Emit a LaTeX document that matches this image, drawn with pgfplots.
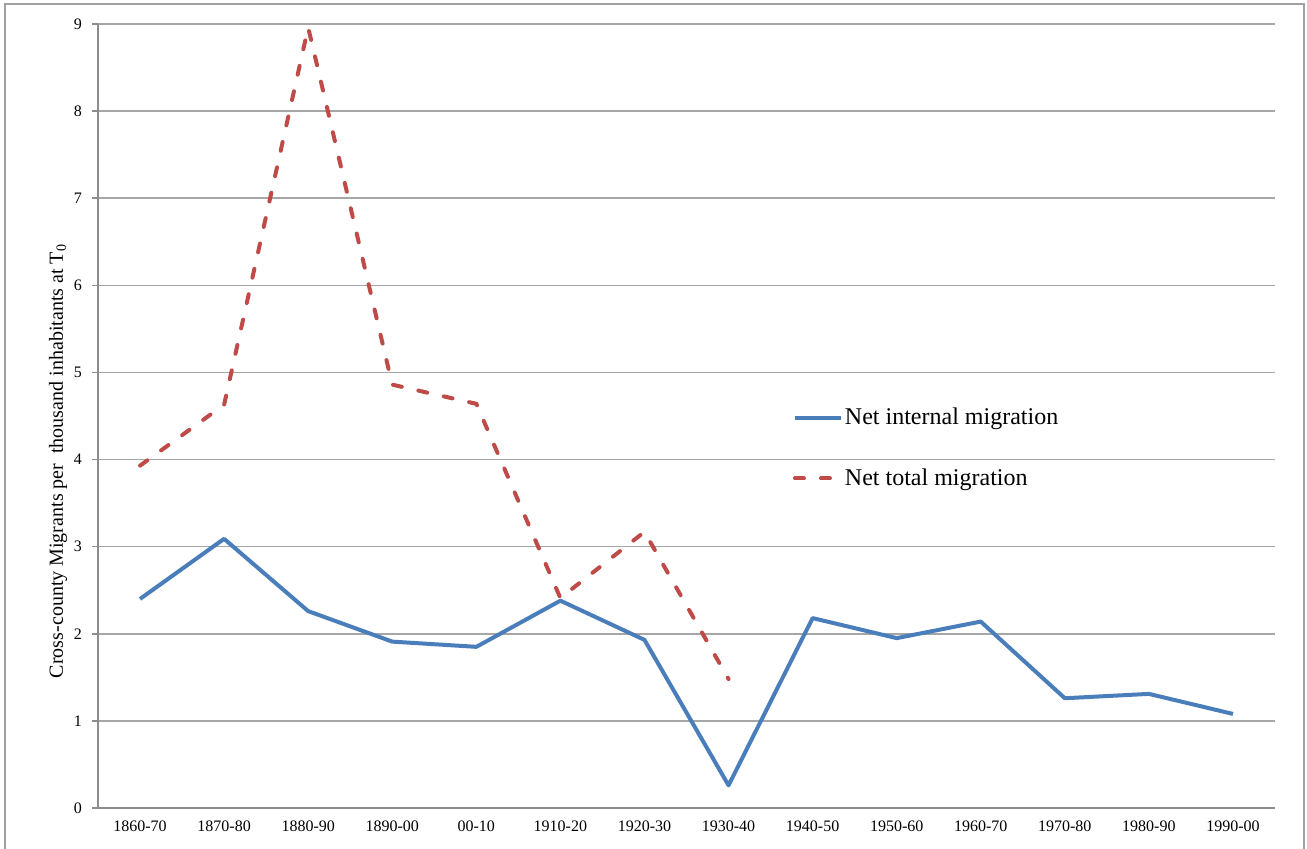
\documentclass[border=0pt]{standalone}
\usepackage{fontspec}
\setmainfont{Liberation Serif}
\usepackage{pgfplots}
\pgfplotsset{compat=1.18}
\definecolor{blueline}{HTML}{4A7EBB}
\definecolor{redline}{HTML}{BE4B48}
\definecolor{gridgray}{HTML}{A6A6A6}
\definecolor{axgray}{HTML}{8C8C8C}
\definecolor{framegray}{HTML}{A0A0A0}
\begin{document}
\begin{tikzpicture}
\useasboundingbox (0,0) rectangle (653.5pt,-424.5pt);
\draw[framegray, line width=0.8pt] (2.5pt,-440pt) -- (2.5pt,-2pt) -- (652pt,-2pt) -- (652pt,-440pt);
\begin{axis}[
  at={(49pt,-404pt)}, anchor=south west,
  scale only axis, width=588.5pt, height=392pt,
  xmin=-0.5, xmax=13.5, ymin=0, ymax=9,
  axis x line*=bottom, axis y line*=left,
  axis line style={axgray, line width=0.75pt, -},
  xtick={0,...,13},
  xticklabels={1860-70,1870-80,1880-90,1890-00,00-10,1910-20,1920-30,1930-40,1940-50,1950-60,1960-70,1970-80,1980-90,1990-00},
  x tick style={draw=none},
  extra x ticks={-0.5,0.5,...,13.5},
  extra x tick labels={},
  extra x tick style={tick style={draw=axgray, line width=0.75pt}, major tick length=3pt, tick align=outside, grid=none},
  ytick={0,...,9},
  y tick style={draw=axgray, line width=0.75pt},
  major tick length=3pt, tick align=outside,
  ymajorgrids, major grid style={gridgray, line width=0.75pt},
  tick label style={font=\fontsize{8}{9}\selectfont},
  yticklabel style={xshift=-1.5pt},
  /pgf/number format/assume math mode=true,
  ylabel={Cross-county Migrants per \ thousand inhabitants at T\textsubscript{0}},
  ylabel style={at={(axis description cs:-0.034,0.4426)}, anchor=center, font=\fontsize{10}{12}\selectfont},
  legend style={draw=none, fill=none, at={(axis description cs:0.585,0.459)}, anchor=west,
    font=\fontsize{12}{14}\selectfont, row sep=18.5pt, nodes={inner sep=1pt}},
  legend image code/.code={\draw[#1] (0pt,0pt) -- (23pt,0pt);},
  legend cell align=left,
  clip=false,
]
\addplot[blueline, line width=2pt, line join=round] coordinates {
(0,2.40) (1,3.09) (2,2.26) (3,1.91) (4,1.85) (5,2.38) (6,1.93) (7,0.26) (8,2.18) (9,1.95) (10,2.14) (11,1.26) (12,1.31) (13,1.08)};
\addlegendentry{Net internal migration}
\addplot[redline, line width=2pt, line cap=round, dash pattern=on 4.5pt off 8.5pt] coordinates {
(0,3.93) (1,4.63) (2,8.96) (3,4.86) (4,4.64) (5,2.41) (6,3.17) (7,1.48)};
\addlegendentry{Net total migration}
\end{axis}
\end{tikzpicture}
\end{document}
